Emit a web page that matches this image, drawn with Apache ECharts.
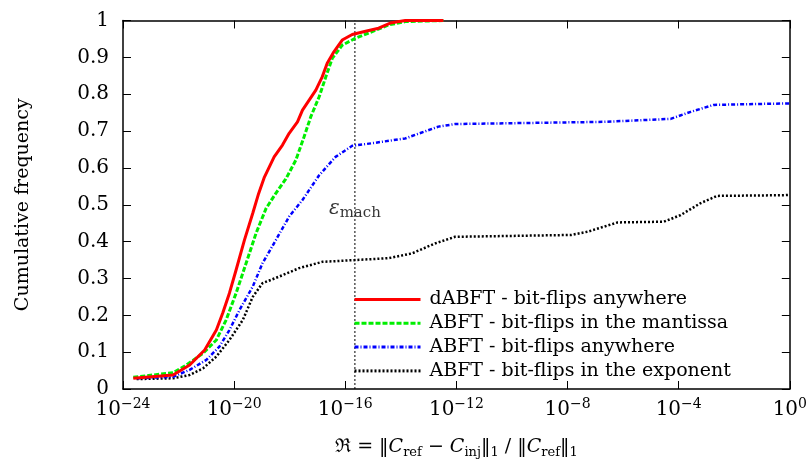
<!DOCTYPE html>
<html><head><meta charset="utf-8">
<script src="https://cdn.jsdelivr.net/npm/echarts@6/dist/echarts.min.js"></script>
<style>html,body{margin:0;padding:0;background:#fff}#c{width:810px;height:465px}</style>
</head><body><div id="c"></div>
<script>
// x values are log10 exponents of the relative error (axis drawn in log10 space)
const seriesNames = [
  'dABFT - bit-flips anywhere',
  'ABFT - bit-flips in the mantissa',
  'ABFT - bit-flips anywhere',
  'ABFT - bit-flips in the exponent'
];
const redExp = [-23.63,-22.2,-21.6,-21.06,-20.64,-20.41,-20.17,-19.93,-19.63,-19.33,-19.12,-18.91,-18.56,-18.26,-18.02,-17.72,-17.54,-17.3,-17.06,-16.83,-16.65,-16.41,-16.11,-15.75,-15.27,-14.8,-14.38,-13.84,-12.47];
const redVal = [0.029,0.038,0.065,0.106,0.16,0.206,0.26,0.323,0.404,0.477,0.53,0.575,0.63,0.662,0.694,0.725,0.757,0.784,0.811,0.847,0.884,0.915,0.947,0.962,0.971,0.979,0.993,1.0,1.0];
const greenExp = [-23.63,-22.2,-21.72,-21.12,-20.64,-20.29,-19.93,-19.57,-19.21,-18.85,-18.5,-18.14,-17.78,-17.48,-17.24,-16.94,-16.7,-16.47,-16.11,-15.63,-15.03,-14.44,-13.84,-12.47];
const greenVal = [0.032,0.044,0.065,0.097,0.133,0.187,0.26,0.341,0.423,0.49,0.531,0.57,0.621,0.685,0.739,0.793,0.847,0.897,0.933,0.952,0.970,0.988,0.997,1.0];
const blueExp = [-23.51,-22.2,-21.6,-21.0,-20.53,-20.17,-19.81,-19.33,-18.98,-18.5,-18.02,-17.54,-16.94,-16.35,-15.75,-15.03,-13.84,-12.65,-12.05,-6.68,-4.29,-3.57,-2.74,-0.1,0];
const blueVal = [0.029,0.033,0.052,0.079,0.115,0.16,0.214,0.278,0.341,0.404,0.468,0.513,0.58,0.63,0.66,0.667,0.68,0.712,0.719,0.725,0.733,0.752,0.771,0.775,0.775];
const blackExp = [-23.51,-22.2,-21.6,-21.12,-20.64,-20.17,-19.69,-19.33,-18.98,-18.38,-17.66,-16.83,-15.63,-14.44,-13.6,-12.77,-12.05,-7.87,-7.27,-6.2,-4.53,-3.93,-3.22,-2.62,-0.17,0];
const blackVal = [0.027,0.029,0.038,0.056,0.088,0.133,0.187,0.25,0.287,0.305,0.328,0.345,0.35,0.355,0.368,0.395,0.413,0.418,0.427,0.452,0.454,0.472,0.504,0.524,0.526,0.527];
const epsMachExp = Math.log10(2.22e-16);
const epsLabelY = 0.49;
const xMinExp = -24, xMaxExp = 0, xStepExp = 4;
const yMin = 0, yMax = 1, yStep = 0.1;

const FONT = 'DejaVu Serif';
function pts(ex, v){ return ex.map((e,i)=>[e, v[i]]); }

const chart = echarts.init(document.getElementById('c'), null, {renderer:'canvas'});
const styles = [
  {color:'#ff0000', width:3, type:'solid'},
  {color:'#00ee00', width:3, type:[5,2]},
  {color:'#0000ff', width:2.5, type:[4,2,1,2]},
  {color:'#000000', width:2.5, type:[2,2]}
];
const datas = [pts(redExp,redVal), pts(greenExp,greenVal), pts(blueExp,blueVal), pts(blackExp,blackVal)];
const series = datas.map((d,i)=>({
  name: seriesNames[i], type:'line', data:d, symbol:'none', showSymbol:false,
  lineStyle:{color:styles[i].color, width:styles[i].width, type:styles[i].type},
  itemStyle:{color:styles[i].color},
  z: 10-i, animation:false
}));
series.push({
  type:'line', data:[[epsMachExp,yMin],[epsMachExp,yMax]], symbol:'none',
  lineStyle:{color:'#000', width:1, type:[2,2]}, silent:true, animation:false, z:1
});
series.push({
  type:'scatter', data:[[epsMachExp, epsLabelY]], symbolSize:0, animation:false,
  label:{show:true, position:'inside', formatter:'{e|ε}{s|mach}',
    rich:{e:{fontFamily:FONT, fontSize:20, fontStyle:'italic', color:'#000'},
          s:{fontFamily:FONT, fontSize:15, color:'#000', padding:[10,0,0,0]}}}
});

const xLabelRich = {b:{fontFamily:FONT, fontSize:20, color:'#000', verticalAlign:'bottom'},
                    s:{fontFamily:FONT, fontSize:14, color:'#000', verticalAlign:'bottom', padding:[0,0,9,0]}};
const axisCommon = {
  axisLine:{show:true, onZero:false, lineStyle:{color:'#000', width:1.5}},
  axisTick:{show:true, inside:true, length:8, lineStyle:{color:'#000'}},
  splitLine:{show:false}
};
chart.setOption({
  animation:false,
  grid:{left:123, right:17, top:20.5, bottom:76},
  legend:{
    data: seriesNames, orient:'vertical', left:348, top:285, itemWidth:66, itemHeight:14, itemGap:4.8,
    itemStyle:{opacity:0}, lineStyle:{width:3},
    textStyle:{fontFamily:FONT, fontSize:19, color:'#000', padding:[0,0,0,4]}
  },
  xAxis:[Object.assign({
    type:'value', min:xMinExp, max:xMaxExp, interval:xStepExp,
    axisLabel:{margin:8, formatter:(e)=>'{b|10}{s|'+(e<0?'−'+(-e):e)+'}', rich:xLabelRich},
    name:'{m|ℜ = ‖}{i|C}{u|ref}{m| − }{i|C}{u|inj}{m|‖}{u|1}{m| / ‖}{i|C}{u|ref}{m|‖}{u|1}',
    nameLocation:'middle', nameGap:47,
    nameTextStyle:{rich:{
      m:{fontFamily:FONT, fontSize:19, color:'#000'},
      i:{fontFamily:FONT, fontSize:19, fontStyle:'italic', color:'#000'},
      u:{fontFamily:FONT, fontSize:13, color:'#000', padding:[10,0,0,0]}}}
  }, axisCommon),
  Object.assign({
    type:'value', min:xMinExp, max:xMaxExp, interval:xStepExp, position:'top',
    axisLabel:{show:false}
  }, axisCommon)],
  yAxis:[Object.assign({
    type:'value', min:yMin, max:yMax, interval:yStep,
    axisLabel:{margin:14, fontFamily:FONT, fontSize:20, color:'#000',
      formatter:(v)=>{ const r=Math.round(v*10)/10; return (r===0||r===1)?String(r):r.toFixed(1);} },
    name:'Cumulative frequency', nameLocation:'middle', nameGap:90,
    nameTextStyle:{fontFamily:FONT, fontSize:19, color:'#000'}
  }, axisCommon),
  Object.assign({
    type:'value', min:yMin, max:yMax, interval:yStep, position:'right',
    axisLabel:{show:false}
  }, axisCommon)],
  series: series
});
</script></body></html>
